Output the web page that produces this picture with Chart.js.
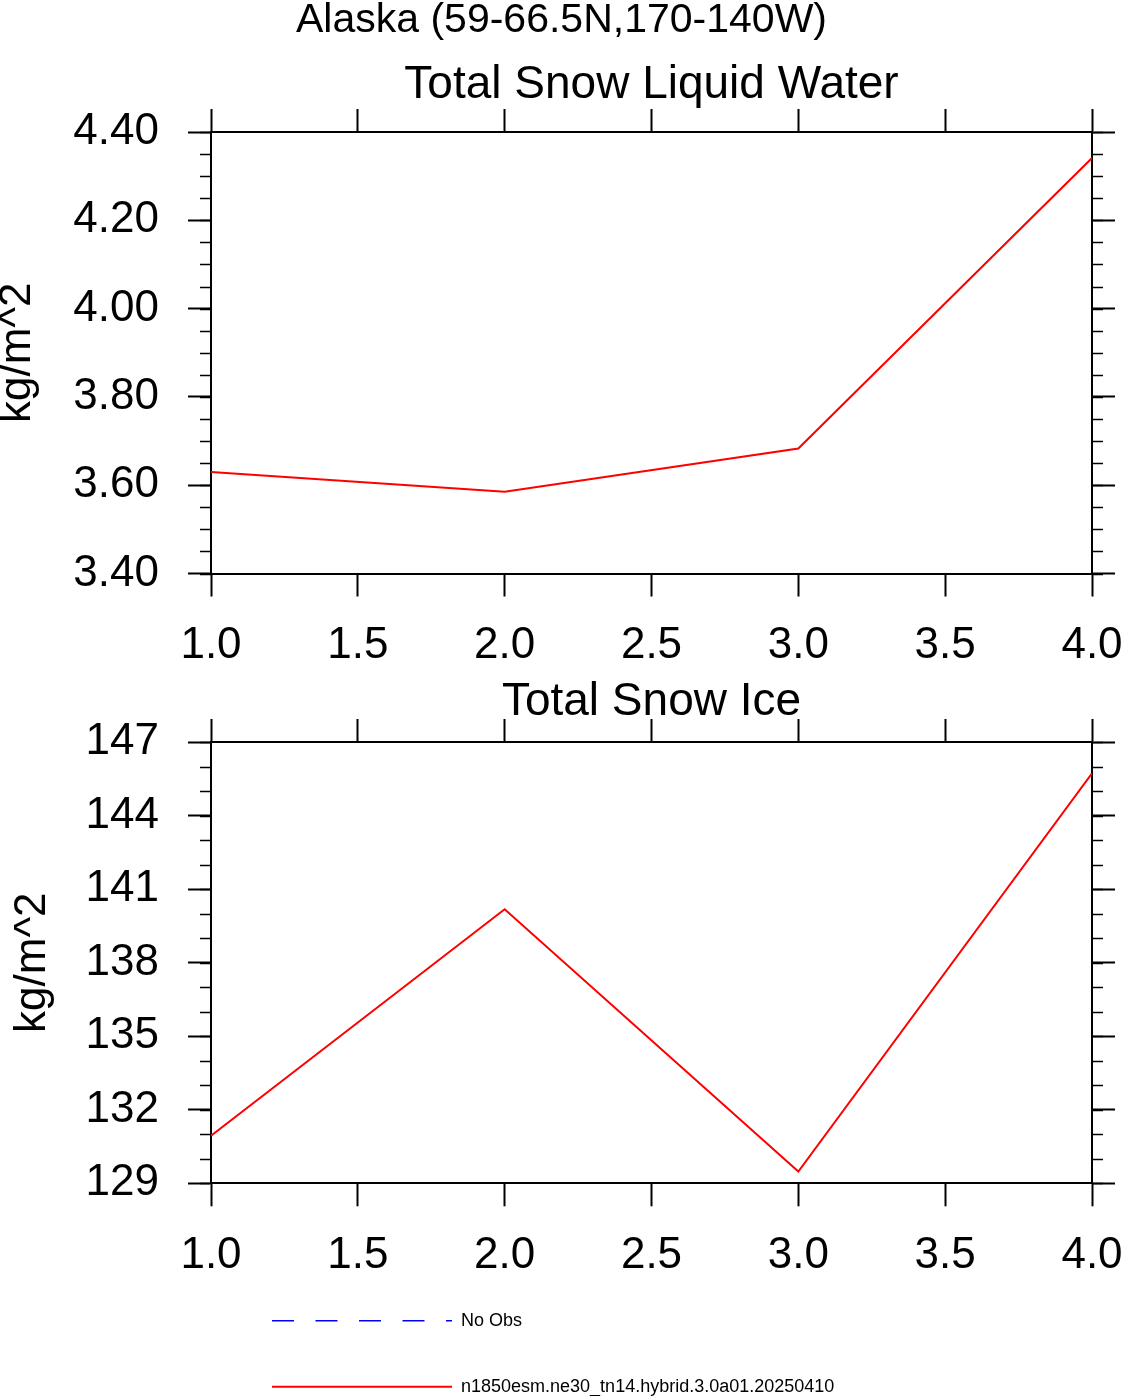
<!DOCTYPE html>
<html>
<head>
<meta charset="utf-8">
<title>Alaska snow</title>
<script src="https://cdn.jsdelivr.net/npm/chart.js@4.4.1/dist/chart.umd.min.js"></script>
<style>
  html, body { margin: 0; padding: 0; background: #fff; overflow: hidden; }
  #wrap { position: relative; width: 1123px; height: 1396px; overflow: hidden; }
  canvas { position: absolute; left: 0; }
  #liquidChart { top: 0; }
  #iceChart { top: 672px; }
</style>
</head>
<body>
<div id="wrap">
  <canvas id="liquidChart" width="1123" height="672"></canvas>
  <canvas id="iceChart" width="1123" height="754"></canvas>
</div>
<script>
// data
const years = [1, 2, 3, 4];
const snowLiquid = [3.63, 3.585, 3.683, 4.341];
const snowIce = [130.94, 140.18, 129.48, 145.72];

// axis ranges and steps [min, max, major, minor]
const xAxis = [1, 4, 0.5];
const liquidAxis = [3.4, 4.4, 0.2, 0.05];
const iceAxis = [129, 147, 3, 1];

const regionTitle = 'Alaska (59-66.5N,170-140W)';
const caseName = 'n1850esm.ne30_tn14.hybrid.3.0a01.20250410';
const unitsLabel = 'kg/m^2';

Chart.defaults.font.family = '"Liberation Sans", Arial, Helvetica, sans-serif';
Chart.defaults.color = '#000';

function toPoints(xs, ys) {
    return xs.map((x, i) => ({ x: x, y: ys[i] }));
}

// NCL style minor ticks, outward on left and right
const minorTicks = {
    id: 'minorTicks',
    afterDraw(chart, args, opts) {
        const ctx = chart.ctx;
        const y = chart.scales.y;
        const area = chart.chartArea;
        ctx.save();
        ctx.strokeStyle = '#000';
        ctx.lineWidth = 1.5;
        ctx.beginPath();
        for (let v = y.min; v <= y.max + 1e-9; v += opts.step) {
            const py = Math.round(y.getPixelForValue(v)) + 0.5;
            ctx.moveTo(area.left - 11, py);
            ctx.lineTo(area.left, py);
            ctx.moveTo(area.right, py);
            ctx.lineTo(area.right + 11, py);
        }
        ctx.stroke();
        ctx.restore();
    }
};

// move the legend block to where NCL put it
const legendShift = {
    id: 'legendShift',
    afterLayout(chart, args, opts) {
        const lg = chart.legend;
        if (lg) {
            lg.left += opts.dx;
            lg.right += opts.dx;
            lg.top += opts.dy;
            lg.bottom += opts.dy;
        }
    }
};

function tickGrid() {
    return {
        drawOnChartArea: false,
        drawTicks: true,
        tickLength: 23,
        tickWidth: 2,
        tickColor: '#000'
    };
}

function buildScales(range, fmtY, yTitlePad, xHeight) {
    return {
        x: {
            type: 'linear',
            position: 'bottom',
            min: xAxis[0],
            max: xAxis[1],
            grid: tickGrid(),
            border: { display: true, color: '#000', width: 2 },
            ticks: {
                stepSize: xAxis[2],
                padding: 0,
                maxRotation: 0,
                autoSkip: false,
                font: { size: 44, lineHeight: '99px' },
                callback: v => v.toFixed(1)
            },
            afterFit: s => { s.height = xHeight; }
        },
        x2: {
            type: 'linear',
            position: 'top',
            min: xAxis[0],
            max: xAxis[1],
            grid: tickGrid(),
            border: { display: true, color: '#000', width: 2 },
            ticks: { stepSize: xAxis[2], display: false },
            afterFit: s => { s.height = 23; }
        },
        y: {
            type: 'linear',
            position: 'left',
            min: range[0],
            max: range[1],
            grid: tickGrid(),
            border: { display: true, color: '#000', width: 2 },
            ticks: {
                stepSize: range[2],
                padding: 29,
                autoSkip: false,
                font: { size: 44 },
                callback: fmtY
            },
            title: {
                display: true,
                text: unitsLabel,
                font: { size: 44, lineHeight: '36px' },
                padding: { top: yTitlePad, bottom: 0 }
            },
            afterFit: s => { s.width = 211; }
        },
        y2: {
            type: 'linear',
            position: 'right',
            min: range[0],
            max: range[1],
            grid: tickGrid(),
            border: { display: true, color: '#000', width: 2 },
            ticks: { stepSize: range[2], display: false },
            afterFit: s => { s.width = 31; }
        }
    };
}

// legend lines keep the dataset dash pattern
function lineLegendLabels(chart) {
    const items = Chart.defaults.plugins.legend.labels.generateLabels(chart);
    items.forEach(item => {
        const ds = chart.data.datasets[item.datasetIndex];
        item.lineDash = ds.borderDash || [];
        item.lineDashOffset = ds.borderDashOffset || 0;
        item.lineWidth = ds.borderWidth;
        item.strokeStyle = ds.borderColor;
    });
    return items;
}

// Panel atas: Total Snow Liquid Water
new Chart(document.getElementById('liquidChart'), {
    type: 'line',
    data: {
        datasets: [{
            label: caseName,
            data: toPoints(years, snowLiquid),
            borderColor: '#ff0000',
            borderWidth: 2,
            pointRadius: 0,
            tension: 0
        }]
    },
    options: {
        responsive: false,
        animation: false,
        devicePixelRatio: 1,
        layout: { padding: 0 },
        scales: buildScales(liquidAxis, v => v.toFixed(2), 0, 98.5),
        plugins: {
            legend: { display: false },
            tooltip: { enabled: false },
            title: {
                display: true,
                text: regionTitle,
                color: '#000',
                font: { size: 41, weight: 'normal', lineHeight: '42px' },
                padding: { top: 0, bottom: 0 }
            },
            subtitle: {
                display: true,
                text: 'Total Snow Liquid Water',
                color: '#000',
                fullSize: false,
                font: { size: 46, weight: 'normal', lineHeight: '48px' },
                padding: { top: 19, bottom: 0 }
            },
            minorTicks: { step: liquidAxis[3] }
        }
    },
    plugins: [minorTicks]
});

// Panel bawah: Total Snow Ice + legend
new Chart(document.getElementById('iceChart'), {
    type: 'line',
    data: {
        datasets: [{
            label: 'No Obs',
            data: [],
            borderColor: '#0000ff',
            borderWidth: 1.5,
            borderDash: [22, 21.5],
            borderDashOffset: 0,
            pointRadius: 0
        }, {
            label: caseName,
            data: toPoints(years, snowIce),
            borderColor: '#ff0000',
            borderWidth: 2,
            pointRadius: 0,
            tension: 0
        }]
    },
    options: {
        responsive: false,
        animation: false,
        devicePixelRatio: 1,
        layout: { padding: 0 },
        scales: buildScales(iceAxis, v => v.toFixed(0), 15, 100.7),
        plugins: {
            title: {
                display: true,
                text: 'Total Snow Ice',
                color: '#000',
                fullSize: false,
                font: { size: 46, weight: 'normal', lineHeight: '34px' },
                padding: { top: 13, bottom: 0 }
            },
            legend: {
                display: true,
                position: 'bottom',
                align: 'start',
                fullSize: false,
                labels: {
                    usePointStyle: true,
                    pointStyle: 'line',
                    pointStyleWidth: 180,
                    padding: 48,
                    color: '#000',
                    font: { size: 18 },
                    generateLabels: lineLegendLabels
                }
            },
            tooltip: { enabled: false },
            minorTicks: { step: iceAxis[3] },
            legendShift: { dx: 13, dy: -20.3 }
        }
    },
    plugins: [minorTicks, legendShift]
});
</script>
</body>
</html>
